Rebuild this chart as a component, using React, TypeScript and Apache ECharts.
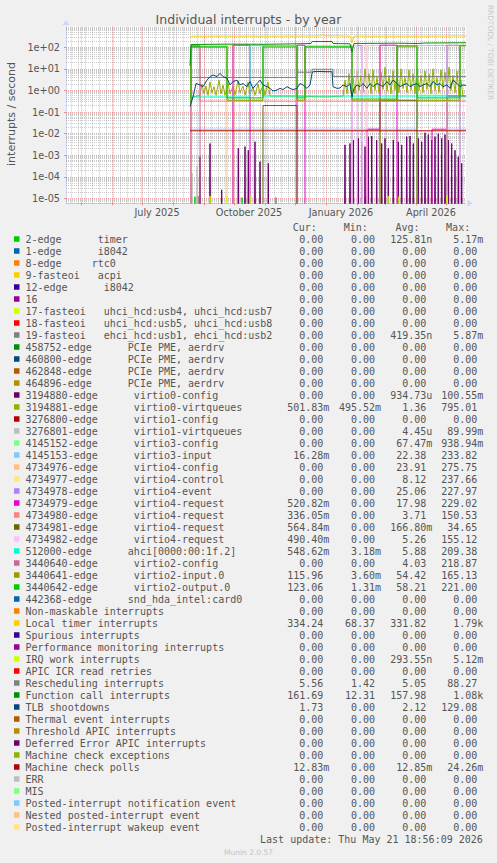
import { useEffect, useRef } from "react";
import * as echarts from "echarts";

// ---------- axes ----------
const PLOT_START = "2025-04-16";
const PLOT_END = "2026-05-21";
const MONTH_STARTS = [
  "2025-05-01", "2025-06-01", "2025-07-01", "2025-08-01", "2025-09-01", "2025-10-01", "2025-11-01",
  "2025-12-01", "2026-01-01", "2026-02-01", "2026-03-01", "2026-04-01", "2026-05-01",
];
const WEEK_STARTS_FROM = "2025-04-21";
const X_LABEL_DATES = ["2025-07-16", "2025-10-16", "2026-01-16", "2026-04-16"];
const X_LABELS = ["July 2025", "October 2025", "January 2026", "April 2026"];

const Y_BOTTOM = 5.9e-6;
const Y_TOP = 910;
const Y_TICKS = [1e-5, 1e-4, 1e-3, 1e-2, 1e-1, 1, 10, 100];
const Y_TICK_LABELS = ["1e-05", "1e-04", "1e-03", "1e-02", "1e-01", "1e+00", "1e+01", "1e+02"];

// ---------- series (day = days since PLOT_START, value = interrupts / second) ----------
// points: [day, value]
const LOCAL_TIMER = [
  [124, 290], [126, 325], [160, 330], [200, 328], [240, 332], [255, 335], [257, 390], [259, 340],
  [284, 330], [286, 170], [288, 330], [320, 328], [360, 330], [400, 334],
];
const FUNCTION_CALL = [
  [124, 14], [125, 135], [160, 140], [200, 138], [230, 145], [245, 150], [246, 185], [266, 185],
  [267, 150], [284, 145], [286, 60], [288, 150], [330, 155], [351, 150], [360, 158], [400, 162],
];
const TLB = [
  [124, 0.18], [127, 0.5], [130, 2.1], [134, 1.8], [137, 1.5], [141, 3.0], [144, 4.4], [147, 5.2],
  [151, 4.4], [154, 6.2], [157, 4.4], [161, 3.7], [164, 1.8], [167, 2.6], [171, 3.0], [174, 1.8],
  [177, 2.1], [181, 1.5], [184, 2.6], [187, 1.25], [191, 2.1], [194, 3.0], [197, 1.8], [201, 1.5],
  [204, 1.25], [207, 0.95], [211, 1.05], [214, 1.25], [217, 1.1], [221, 1.5], [224, 1.25], [227, 1.1],
  [231, 1.25], [234, 2.1], [237, 1.8], [241, 1.25], [244, 1.8], [246, 6.2], [247, 7.4], [254, 7.6],
  [260, 7.4], [266, 7.4], [267, 1.5], [271, 1.25], [274, 1.3], [277, 1.8], [281, 1.5], [284, 2.1],
  [286, 0.5], [288, 1.25], [291, 1.8], [294, 1.5], [297, 2.1], [301, 1.25], [304, 2.1], [307, 1.5],
  [311, 2.1], [314, 1.8], [317, 1.5], [321, 2.6], [324, 1.8], [327, 3.0], [331, 2.1], [334, 1.5],
  [337, 1.8], [341, 2.1], [344, 1.5], [347, 1.8], [351, 2.1], [354, 1.5], [357, 1.8], [361, 2.1],
  [364, 1.5], [367, 2.6], [371, 1.8], [374, 2.1], [377, 1.5], [381, 1.8], [384, 1.25], [387, 3.0],
  [391, 2.1], [394, 1.5], [397, 1.8], [400, 1.7],
];
const VIRTIO0_VIRTQUEUES = [
  [124, 0.3], [127, 0.5], [134, 0.6], [136, 2.0], [138, 0.7], [140, 1.6], [142, 0.6], [144, 2.5],
  [146, 0.8], [148, 1.5], [150, 0.6], [153, 3.0], [155, 0.7], [157, 1.8], [159, 0.6], [162, 2.2],
  [164, 0.7], [167, 1.5], [169, 0.6], [172, 2.8], [174, 0.8], [177, 1.6], [179, 0.6], [182, 2.4],
  [184, 0.7], [187, 1.4], [189, 0.6], [192, 2.0], [194, 0.7], [197, 1.8], [199, 0.6], [202, 2.5],
  [204, 0.55], [230, 0.55], [260, 0.5], [277, 0.55], [279, 3], [281, 0.7], [283, 6], [285, 0.8],
  [287, 4], [289, 0.7], [291, 8], [293, 1], [295, 5], [297, 0.8], [299, 10], [301, 1.2], [303, 6],
  [305, 0.7], [307, 9], [309, 1], [311, 4], [313, 0.8], [315, 7], [317, 1.1], [319, 12], [321, 0.9],
  [323, 5], [325, 0.7], [327, 8], [329, 1], [331, 6], [333, 0.8], [335, 10], [337, 1.2], [339, 4],
  [341, 0.8], [343, 9], [345, 1], [347, 6], [349, 0.7], [351, 11], [353, 1], [355, 5], [357, 0.8],
  [359, 8], [361, 1.1], [363, 6], [365, 0.7], [367, 10], [369, 1], [371, 4], [373, 0.8], [375, 9],
  [377, 1.2], [379, 7], [381, 0.9], [383, 12], [385, 1], [387, 5], [389, 0.8], [391, 8], [393, 0.6],
  [395, 3], [397, 0.55], [400, 0.5],
];
// spikes rising from zero: [day, peak]
const VIRTIO0_CONFIG_SPIKES = [
  [134, 8.5e-4], [144, 3.5e-3], [155.7, 2.5e-5], [172.3, 2.1e-3], [179, 2.5e-3], [182.3, 1.7e-3],
  [189, 4.2e-3], [194, 5e-4], [202.3, 4.2e-4], [279, 3e-3], [284, 3.5e-3], [287.3, 5e-3], [292.3, 6e-3],
  [295.7, 4.2e-3], [299, 2.5e-3], [302.3, 7.2e-3], [305.7, 7.8e-3], [310.7, 5e-3], [315.7, 3.5e-3],
  [319, 6e-3], [322.3, 2.1e-3], [327.3, 5e-3], [332.3, 4.2e-3], [335.7, 3e-3], [340.7, 7.2e-3],
  [344, 7.8e-3], [347.3, 3.5e-3], [352.3, 6e-3], [355.7, 4.2e-3], [359, 0.011], [362.3, 9e-3],
  [365.7, 5e-3], [369, 7.2e-3], [372.3, 0.01], [375.7, 6e-3], [379, 9e-3], [382.3, 5e-3],
  [385.7, 3.5e-3], [389, 1.7e-3], [392.3, 8.5e-4], [395.7, 4.2e-4],
];
const VIRTIO1_VIRTQUEUES_SPIKES = [[126, 1.5e-4], [131, 3e-4]];
const IRQ_WORK_SPIKES = [[144, 1.3e-5], [161, 1.2e-5], [185, 1.4e-5], [322, 1.3e-5], [333, 1.2e-5], [381, 1.4e-5]];
const TIMER_SPIKES = [[129, 1.2e-5], [176, 1.1e-5], [300, 1.2e-5]];
const EHCI_SPIKES = [[132, 1.3e-5], [210, 1.1e-5]];
// segments: [fromDay, toDay, value]
const RESCHEDULING = [[124, 231, 4.0], [231, 246, 7.0], [246, 267, 9.6], [267, 400, 4.4]];
const MCE_POLLS = [[124, 400, 0.0135]];
const VIRTIO3_CONFIG = [[124, 351, 0], [351, 381, 0.6], [381, 400, 0]];
const VIRTIO3_INPUT = [[124, 351, 0.016], [351, 381, 120], [381, 400, 0.016]];
const VIRTIO4_CONFIG = [[124, 161, 0], [161, 167, 115], [167, 286, 0], [286, 314, 120], [314, 381, 0], [381, 394, 118], [394, 400, 0]];
const VIRTIO4_CONTROL = [[124, 296, 0], [296, 301, 120], [301, 400, 0]];
const VIRTIO4_EVENT = [[124, 286, 0], [286, 296, 120], [296, 381, 0], [381, 394, 125], [394, 400, 0]];
const VIRTIO4_REQ_79 = [[124, 167, 0], [167, 184, 125], [184, 231, 0], [231, 239, 125], [239, 301, 0], [301, 314, 0.016], [314, 331, 125], [331, 366, 0], [366, 381, 0.016], [381, 400, 0.52]];
const VIRTIO4_REQ_80 = [[124, 125, 0], [125, 134, 120], [134, 400, 0.32]];
const VIRTIO4_REQ_81 = [[124, 197, 0], [197, 231, 0.2], [231, 314, 0], [314, 351, 0.35], [351, 381, 0], [381, 400, 0.56]];
const VIRTIO4_REQ_82 = [[124, 286, 0], [286, 291, 120], [291, 296, 0], [296, 301, 120], [301, 381, 0], [381, 400, 0.49]];
const AHCI = [[124, 184, 0.5], [184, 197, 120], [197, 400, 0.55]];
const VIRTIO2_CONFIG = [[124, 125, 0], [125, 134, 110], [134, 400, 0]];
const VIRTIO2_INPUT = [[124, 125, 0.25], [125, 161, 100], [161, 197, 0.35], [197, 231, 102], [231, 239, 0.35], [239, 286, 100], [286, 331, 0.33], [331, 351, 105], [351, 394, 0.35], [394, 400, 116]];
const VIRTIO2_OUTPUT = [[124, 125, 0.3], [125, 161, 112], [161, 197, 0.45], [197, 231, 115], [231, 239, 0.45], [239, 286, 112], [286, 331, 0.4], [331, 351, 118], [351, 394, 0.45], [394, 400, 123]];

// ---------- legend ----------
const PALETTE = [
  "#00CC00", "#0066B3", "#FF8000", "#FFCC00", "#330099", "#990099", "#CCFF00", "#FF0000", "#808080",
  "#008F00", "#00487D", "#B35A00", "#B38F00", "#6B006B", "#8FB300", "#B30000", "#BEBEBE", "#80FF80",
  "#80C9FF", "#FFC080", "#FFE680", "#AA80FF", "#EE00CC", "#FF8080", "#666600", "#FFBFFF", "#00FFCC",
  "#CC6699", "#999900",
];
const LEGEND_LABELS = [
  "2-edge      timer", "1-edge      i8042", "8-edge     rtc0", "9-fasteoi   acpi", "12-edge      i8042", "16",
  "17-fasteoi   uhci_hcd:usb4, uhci_hcd:usb7", "18-fasteoi   uhci_hcd:usb5, uhci_hcd:usb8",
  "19-fasteoi   ehci_hcd:usb1, ehci_hcd:usb2",
  "458752-edge      PCIe PME, aerdrv", "460800-edge      PCIe PME, aerdrv", "462848-edge      PCIe PME, aerdrv",
  "464896-edge      PCIe PME, aerdrv",
  "3194880-edge      virtio0-config", "3194881-edge      virtio0-virtqueues", "3276800-edge      virtio1-config",
  "3276801-edge      virtio1-virtqueues", "4145152-edge      virtio3-config", "4145153-edge      virtio3-input",
  "4734976-edge      virtio4-config", "4734977-edge      virtio4-control", "4734978-edge      virtio4-event",
  "4734979-edge      virtio4-request", "4734980-edge      virtio4-request", "4734981-edge      virtio4-request",
  "4734982-edge      virtio4-request", "512000-edge      ahci[0000:00:1f.2]", "3440640-edge      virtio2-config",
  "3440641-edge      virtio2-input.0", "3440642-edge      virtio2-output.0", "442368-edge      snd_hda_intel:card0",
  "Non-maskable interrupts", "Local timer interrupts", "Spurious interrupts", "Performance monitoring interrupts",
  "IRQ work interrupts", "APIC ICR read retries", "Rescheduling interrupts", "Function call interrupts",
  "TLB shootdowns", "Thermal event interrupts", "Threshold APIC interrupts", "Deferred Error APIC interrupts",
  "Machine check exceptions", "Machine check polls", "ERR", "MIS", "Posted-interrupt notification event",
  "Nested posted-interrupt event", "Posted-interrupt wakeup event",
];
const Z = "0.00";
const LEGEND_CUR = [
  Z, Z, Z, Z, Z, Z, Z, Z, Z, Z, Z, Z, Z, Z, "501.83m", Z, Z, Z, "16.28m", Z, Z, Z, "520.82m", "336.05m",
  "564.84m", "490.40m", "548.62m", Z, "115.96", "123.06", Z, Z, "334.24", Z, Z, Z, Z, "5.56", "161.69", "1.73",
  Z, Z, Z, Z, "12.83m", Z, Z, Z, Z, Z,
];
const LEGEND_MIN = [
  Z, Z, Z, Z, Z, Z, Z, Z, Z, Z, Z, Z, Z, Z, "495.52m", Z, Z, Z, Z, Z, Z, Z, Z, Z,
  Z, Z, "3.18m", Z, "3.60m", "1.31m", Z, Z, "68.37", Z, Z, Z, Z, "1.42", "12.31", Z,
  Z, Z, Z, Z, Z, Z, Z, Z, Z, Z,
];
const LEGEND_AVG = [
  "125.81n", Z, Z, Z, Z, Z, Z, Z, "419.35n", Z, Z, Z, Z, "934.73u", "1.36", Z, "4.45u", "67.47m", "22.38", "23.91",
  "8.12", "25.06", "17.98", "3.71", "166.80m", "5.26", "5.88", "4.03", "54.42", "58.21", Z, Z, "331.82", Z, Z,
  "293.55n", Z, "5.05", "157.98", "2.12", Z, Z, Z, Z, "12.85m", Z, Z, Z, Z, Z,
];
const LEGEND_MAX = [
  "5.17m", Z, Z, Z, Z, Z, Z, Z, "5.87m", Z, Z, Z, Z, "100.55m", "795.01", Z, "89.99m", "938.94m", "233.82",
  "275.75", "237.66", "227.97", "229.02", "150.53", "34.65", "155.12", "209.38", "218.87", "165.13", "221.00",
  Z, Z, "1.79k", Z, Z, "5.12m", Z, "88.27", "1.08k", "129.08", Z, Z, Z, Z, "24.26m", Z, Z, Z, Z, Z,
];
const LEGEND_HEADERS = ["Cur:", "Min:", "Avg:", "Max:"];
const TITLE = "Individual interrupts - by year";
const Y_TITLE = "interrupts / second";
const LAST_UPDATE = "Last update: Thu May 21 18:56:09 2026";
const FOOTER = "Munin 2.0.57";
const WATERMARK = "RRDTOOL / TOBI OETIKER";

// ---------- helpers ----------
const DAY_MS = 86400000;
const dayOf = (iso: string) => (Date.parse(iso + "T00:00:00Z") - Date.parse(PLOT_START + "T00:00:00Z")) / DAY_MS;
const ZERO_LOG = -9;
const lg = (v: number) => (v > 0 ? Math.log10(v) : ZERO_LOG);
const fromPoints = (pts: number[][]) => pts.map(([d, v]) => [d, lg(v)]);
const fromSegments = (segs: number[][]) => {
  const out: number[][] = [];
  segs.forEach(([a, b, v]) => { out.push([a, lg(v)], [b, lg(v)]); });
  return out;
};
const fromSpikes = (spikes: number[][]) => {
  const out: number[][] = [[124, ZERO_LOG]];
  spikes.forEach(([d, p]) => { out.push([d - 0.8, ZERO_LOG], [d, lg(p)], [d + 0.8, ZERO_LOG]); });
  out.push([400, ZERO_LOG]);
  return out;
};

// row index in legend -> data
const DRAWN: [number, number[][]][] = [
  [0, fromSpikes(TIMER_SPIKES)],
  [8, fromSpikes(EHCI_SPIKES)],
  [13, fromSpikes(VIRTIO0_CONFIG_SPIKES)],
  [14, fromPoints(VIRTIO0_VIRTQUEUES)],
  [16, fromSpikes(VIRTIO1_VIRTQUEUES_SPIKES)],
  [17, fromSegments(VIRTIO3_CONFIG)],
  [18, fromSegments(VIRTIO3_INPUT)],
  [19, fromSegments(VIRTIO4_CONFIG)],
  [20, fromSegments(VIRTIO4_CONTROL)],
  [21, fromSegments(VIRTIO4_EVENT)],
  [22, fromSegments(VIRTIO4_REQ_79)],
  [23, fromSegments(VIRTIO4_REQ_80)],
  [24, fromSegments(VIRTIO4_REQ_81)],
  [25, fromSegments(VIRTIO4_REQ_82)],
  [26, fromSegments(AHCI)],
  [27, fromSegments(VIRTIO2_CONFIG)],
  [28, fromSegments(VIRTIO2_INPUT)],
  [29, fromSegments(VIRTIO2_OUTPUT)],
  [32, fromPoints(LOCAL_TIMER)],
  [35, fromSpikes(IRQ_WORK_SPIKES)],
  [37, fromSegments(RESCHEDULING)],
  [38, fromPoints(FUNCTION_CALL)],
  [39, fromPoints(TLB)],
  [44, fromSegments(MCE_POLLS)],
];

const SANS = '"DejaVu Sans", "Liberation Sans", sans-serif';
const MONO = '"DejaVu Sans Mono", "Liberation Mono", monospace';
const TXT = "#555555";

function buildGraphic() {
  const els: any[] = [];
  const text = (x: number, y: number, s: string, font: string, align = "left", fill = TXT, rotation = 0) =>
    els.push({
      type: "text", x, y, rotation, silent: true,
      style: { text: s, font, fill, align, verticalAlign: "middle", textAlign: align, textVerticalAlign: "middle" },
    });
  text(248.5, 19, TITLE, `12.5px ${SANS}`, "center");
  text(11, 114, Y_TITLE, `11px ${SANS}`, "center", TXT, Math.PI / 2);
  text(490, 52.5, WATERMARK, `7.4px ${SANS}`, "center", "#c8c8c8", -Math.PI / 2);
  const CH = 6.02;
  const rowY0 = 239;
  const headX = [292.7, 343.7, 395.4, 446.1];
  LEGEND_HEADERS.forEach((h, i) => text(headX[i], rowY0 - 12, h, `10px ${MONO}`));
  const colEnd = [323.3, 375, 426.3, 477.3];
  LEGEND_LABELS.forEach((label, i) => {
    const y = rowY0 + i * 12;
    els.push({ type: "rect", silent: true, shape: { x: 14, y: y - 2.75, width: 5.5, height: 5.5 }, style: { fill: PALETTE[i % PALETTE.length] } });
    const re = /\S+(?: \S+)*/g;
    let m: RegExpExecArray | null;
    while ((m = re.exec(label))) text(25.5 + m.index * CH, y, m[0], `10px ${MONO}`);
    [LEGEND_CUR, LEGEND_MIN, LEGEND_AVG, LEGEND_MAX].forEach((col, c) => {
      const v = col[i];
      const last = v[v.length - 1];
      const hasUnit = /[a-z]/i.test(last);
      text(colEnd[c], y, hasUnit ? v.slice(0, -1) : v, `10px ${MONO}`, "right");
      if (hasUnit) text(colEnd[c], y, last, `10px ${MONO}`, "left");
    });
  });
  text(482.8, rowY0 + 50 * 12, LAST_UPDATE, `10px ${MONO}`, "right");
  text(248.5, 852, FOOTER, `7.5px ${SANS}`, "center", "#c4c4c4");
  return els;
}

function buildGridLines() {
  const minor = { color: "rgba(150,150,150,0.5)", width: 1, type: [1, 1] };
  const major = { color: "rgba(224,80,80,0.5)", width: 1, type: [1, 1] };
  const data: any[] = [];
  const lo = Math.log10(Y_BOTTOM), hi = Math.log10(Y_TOP);
  for (let k = -6; k <= 2; k++) {
    for (let m = 2; m <= 9; m++) {
      const v = Math.log10(m) + k;
      if (v > lo && v < hi) data.push({ yAxis: v, lineStyle: minor });
    }
  }
  const xMax = dayOf(PLOT_END);
  for (let d = dayOf(WEEK_STARTS_FROM); d < xMax; d += 7) data.push({ xAxis: d, lineStyle: minor });
  Y_TICKS.forEach((t) => data.push({ yAxis: Math.log10(t), lineStyle: major }));
  MONTH_STARTS.forEach((s) => data.push({ xAxis: dayOf(s), lineStyle: major }));
  return data;
}

export default function App() {
  const ref = useRef<HTMLDivElement>(null);
  useEffect(() => {
    if (!ref.current) return;
    const chart = echarts.init(ref.current, undefined, { renderer: "svg" });
    const xLabelDays = X_LABEL_DATES.map(dayOf);
    const yTickLogs = Y_TICKS.map((t) => Math.log10(t));
    const axisColor = "#CFD6F8";
    const option: any = {
      animation: false,
      backgroundColor: "#F0F0F0",
      grid: { left: 66, right: 31, top: 26.6, bottom: 659.7, show: true, backgroundColor: "#ffffff", borderWidth: 0, containLabel: false },
      xAxis: {
        type: "value", min: 0, max: dayOf(PLOT_END),
        axisLine: { show: true, onZero: false, lineStyle: { color: axisColor, width: 1 }, symbol: ["none", "triangle"], symbolSize: [7, 5], symbolOffset: [0, 4] },
        axisTick: { show: true, customValues: MONTH_STARTS.map(dayOf), length: 2, lineStyle: { color: "rgba(224,80,80,0.6)" } },
        axisLabel: {
          show: true, customValues: xLabelDays, margin: 4.5, color: TXT, fontFamily: SANS, fontSize: 9.7,
          formatter: (v: number) => { const i = xLabelDays.findIndex((d) => Math.abs(d - v) < 0.5); return i >= 0 ? X_LABELS[i] : ""; },
        },
        splitLine: { show: false },
      },
      yAxis: {
        type: "value", min: Math.log10(Y_BOTTOM), max: Math.log10(Y_TOP),
        axisLine: { show: true, onZero: false, lineStyle: { color: axisColor, width: 1 }, symbol: ["none", "triangle"], symbolSize: [7, 5], symbolOffset: [0, 4] },
        axisTick: { show: true, customValues: yTickLogs, length: 2, lineStyle: { color: "rgba(224,80,80,0.6)" } },
        axisLabel: {
          show: true, customValues: yTickLogs, margin: 6, color: TXT, fontFamily: SANS, fontSize: 9.7,
          formatter: (v: number) => { const i = yTickLogs.findIndex((d) => Math.abs(d - v) < 0.01); return i >= 0 ? Y_TICK_LABELS[i] : ""; },
        },
        splitLine: { show: false },
      },
      series: [
        {
          type: "line", data: [[0, -99]], symbol: "none", silent: true, lineStyle: { opacity: 0 },
          markLine: { silent: true, z: 1, symbol: ["none", "none"], label: { show: false }, animation: false, data: buildGridLines() },
        },
        ...DRAWN.map(([row, data]) => ({
          type: "line", name: LEGEND_LABELS[row], data, symbol: "none", silent: true, clip: true,
          lineStyle: { width: 1, color: PALETTE[row % PALETTE.length] },
        })),
      ],
      graphic: buildGraphic(),
    };
    chart.setOption(option);
    return () => chart.dispose();
  }, []);
  return <div ref={ref} style={{ position: "fixed", left: 0, top: 0, width: 497, height: 863 }} />;
}
